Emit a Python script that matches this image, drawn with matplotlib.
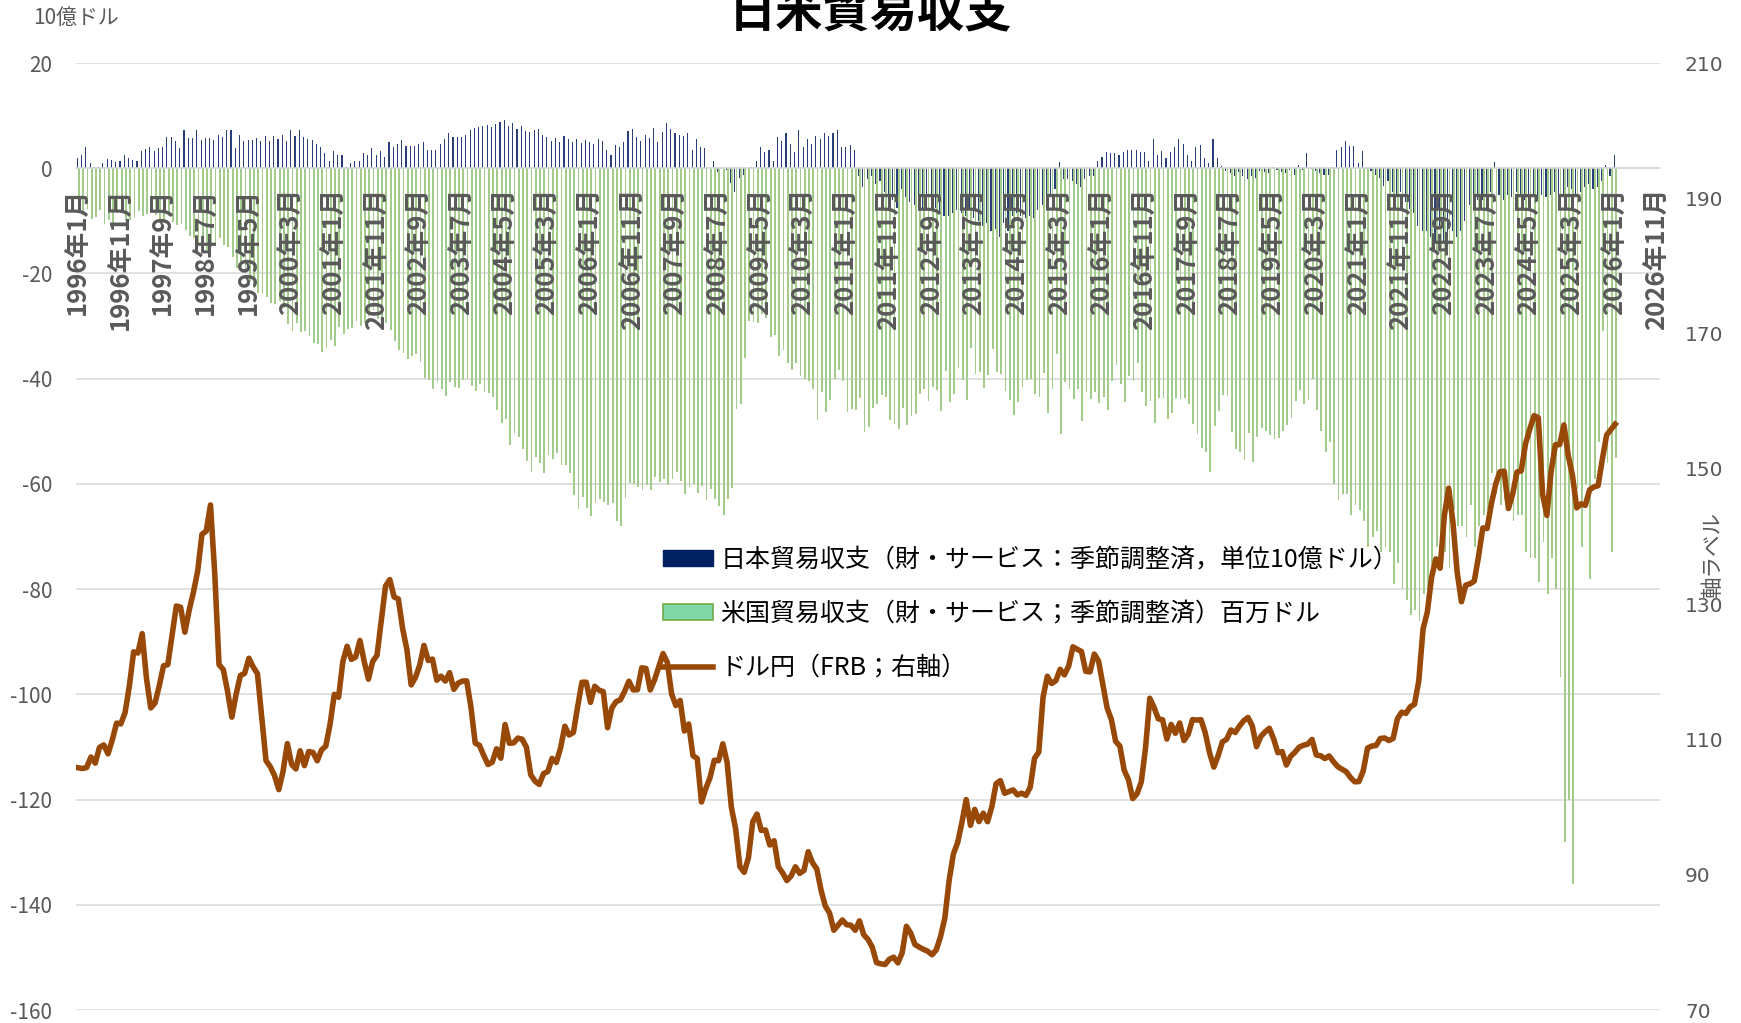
import matplotlib
matplotlib.use("Agg")
import matplotlib.pyplot as plt
import numpy as np
from matplotlib.patches import Patch
from matplotlib.lines import Line2D

plt.rcParams['font.family'] = ['Noto Sans CJK JP', 'DejaVu Sans']
plt.rcParams['axes.unicode_minus'] = False

# ---------------- data (monthly, 1996-01 .. 2026-01) ----------------
tick_labels = ["1996年1月", "1996年11月", "1997年9月", "1998年7月", "1999年5月", "2000年3月",
               "2001年1月", "2001年11月", "2002年9月", "2003年7月", "2004年5月", "2005年3月",
               "2006年1月", "2006年11月", "2007年9月", "2008年7月", "2009年5月", "2010年3月",
               "2011年1月", "2011年11月", "2012年9月", "2013年7月", "2014年5月", "2015年3月",
               "2016年1月", "2016年11月", "2017年9月", "2018年7月", "2019年5月", "2020年3月",
               "2021年1月", "2021年11月", "2022年9月", "2023年7月", "2024年5月", "2025年3月",
               "2026年1月", "2026年11月"]
n_categories = 371   # 1996年1月 .. 2026年11月

japan_balance = [
    1.9, 2.5, 4.0, 1.0, 0.2, 0.2, 0.9, 1.7, 1.6, 1.1, 1.4, 2.5,          # 1996
    1.9, 1.6, 1.4, 3.3, 3.7, 4.0, 3.2, 3.9, 4.0, 6.0, 6.0, 5.1,          # 1997
    3.8, 7.2, 5.7, 5.7, 7.2, 5.4, 5.7, 5.7, 5.4, 6.4, 6.0, 7.2,          # 1998
    7.2, 3.8, 6.4, 5.1, 5.3, 5.3, 5.7, 5.1, 6.2, 5.1, 6.2, 5.6,          # 1999
    6.4, 5.1, 7.3, 6.2, 7.3, 5.9, 5.6, 5.3, 4.6, 4.1, 2.8, 1.4,          # 2000
    3.2, 2.5, 2.5, 0.3, 0.9, 1.4, 1.4, 2.8, 2.5, 3.8, 2.5, 3.2,          # 2001
    2.1, 4.9, 4.1, 4.6, 5.3, 4.3, 4.3, 4.3, 4.6, 4.9, 3.5, 3.5,          # 2002
    3.5, 4.6, 5.6, 6.7, 5.9, 5.9, 5.9, 6.4, 7.3, 7.6, 7.8, 8.0,          # 2003
    8.2, 7.9, 8.5, 8.8, 9.2, 8.0, 8.6, 7.4, 8.1, 7.0, 6.8, 7.2,          # 2004
    7.5, 6.3, 6.0, 5.2, 5.8, 5.0, 6.1, 5.5, 4.9, 5.6, 4.8, 5.3,          # 2005
    5.0, 4.6, 5.5, 5.2, 3.5, 2.5, 4.5, 4.0, 5.0, 7.0, 7.5, 6.0,          # 2006
    5.2, 6.3, 5.8, 7.6, 4.9, 6.8, 8.6, 7.5, 6.7, 6.4, 6.2, 6.7,          # 2007
    3.5, 5.6, 4.0, 3.8, 0.1, 1.4, -0.7, 0.0, -0.4, -2.9, -4.5, -1.8,     # 2008
    -1.3, 0.0, 0.3, 1.4, 4.0, 3.0, 3.5, 1.4, 6.0, 5.1, 6.7, 4.6,         # 2009
    3.0, 7.3, 4.0, 5.6, 4.6, 6.2, 5.6, 6.7, 6.2, 6.7, 7.3, 4.0,          # 2010
    4.0, 4.5, 3.4, -1.5, -3.5, -2.0, -1.5, -3.0, -2.5, -4.5, -5.5, -6.0,  # 2011
    -7.5, -4.0, -5.5, -6.5, -7.0, -6.0, -7.5, -8.0, -8.0, -7.5, -8.5, -9.0,   # 2012
    -9.0, -8.5, -8.0, -8.5, -9.0, -8.0, -9.5, -10.0, -11.0, -10.5, -12.0, -11.5,  # 2013
    -13.0, -10.5, -12.0, -9.0, -8.5, -9.0, -9.5, -9.0, -9.5, -8.0, -7.0, -6.5,  # 2014
    -5.0, -4.0, 1.2, -2.0, -2.0, -2.5, -3.0, -3.5, -2.0, -1.5, -1.5, 1.4,   # 2015
    2.1, 3.0, 2.8, 2.8, 2.5, 3.0, 3.5, 3.5, 3.5, 3.0, 3.0, 1.4,           # 2016
    5.6, 2.5, 3.2, 1.9, 3.0, 4.1, 5.6, 4.6, 2.5, 1.4, 4.1, 4.5,           # 2017
    2.0, 1.0, 5.5, 2.0, 0.5, -0.5, -1.0, -1.5, -0.8, -1.5, -2.0, -1.5,    # 2018
    -1.8, -0.5, -0.8, -1.0, 0.3, -0.4, -0.7, -1.0, -0.3, -1.2, 0.6, -0.3,  # 2019
    2.8, -0.2, -0.5, -1.0, -1.3, -1.3, 0.3, 3.5, 4.0, 5.1, 4.3, 4.3,      # 2020
    1.0, 3.2, -0.2, -0.5, -1.3, -1.8, -3.4, -2.5, -4.5, -5.5, -4.5, -6.5,  # 2021
    -7.7, -8.5, -10.9, -12.0, -12.0, -13.0, -14.0, -10.9, -14.0, -13.0, -12.0, -13.0,  # 2022
    -12.0, -10.0, -7.0, -8.0, -6.0, -6.0, -5.5, -4.5, 1.2, -5.0, -6.0, -5.0,  # 2023
    -5.5, -4.5, -5.0, -6.0, -6.5, -5.5, -6.0, -5.0, -5.5, -5.0, -4.5, -5.0,  # 2024
    -5.0, -3.5, -4.0, -5.0, -4.5, -3.5, -3.0, -4.0, -3.5, -2.5, 0.6, -1.5,  # 2025
    2.5,                                                                  # 2026
]

us_balance = [
    -8.4, -8.9, -7.8, -9.6, -9.2, -7.9, -10.6, -9.8, -10.7, -8.6, -8.4, -9.9,   # 1996
    -9.8, -9.4, -8.2, -9.0, -8.7, -7.9, -8.9, -9.6, -10.2, -9.1, -10.3, -10.7,  # 1997
    -10.6, -11.8, -12.9, -13.3, -14.2, -14.9, -15.6, -14.9, -14.7, -13.2, -14.5, -14.9,  # 1998
    -16.8, -18.9, -19.2, -19.9, -21.4, -22.8, -23.7, -23.9, -24.5, -25.6, -25.9, -25.3,  # 1999
    -26.5, -29.6, -30.9, -29.5, -31.2, -30.9, -31.8, -33.2, -33.4, -34.9, -34.1, -32.6,  # 2000
    -33.8, -30.2, -31.5, -30.6, -30.4, -29.1, -30.0, -29.5, -28.1, -27.0, -28.6, -29.0,  # 2001
    -29.4, -30.8, -32.9, -34.6, -35.1, -36.2, -35.7, -35.3, -36.8, -39.8, -40.2, -41.9,  # 2002
    -40.7, -41.9, -43.2, -40.6, -41.5, -41.8, -40.3, -40.0, -41.4, -42.3, -41.0, -42.5,  # 2003
    -42.8, -43.5, -46.0, -48.5, -47.6, -52.6, -50.3, -51.0, -53.3, -55.6, -57.8, -54.9,  # 2004
    -56.1, -58.0, -54.6, -55.3, -54.2, -56.4, -56.5, -57.9, -62.2, -64.8, -62.4, -64.6,  # 2005
    -66.1, -63.7, -62.9, -63.5, -64.0, -63.6, -67.0, -68.0, -62.7, -59.9, -60.1, -60.5,  # 2006
    -61.2, -60.2, -61.1, -58.6, -59.6, -59.0, -60.3, -59.0, -57.8, -59.4, -61.9, -60.6,  # 2007
    -60.1, -61.7, -60.4, -63.0, -61.0, -62.8, -64.2, -66.0, -62.9, -60.7, -45.8, -44.9,  # 2008
    -36.0, -29.0, -29.2, -29.5, -27.8, -28.4, -32.0, -31.7, -35.6, -34.5, -37.0, -38.3,  # 2009
    -37.0, -39.5, -40.0, -40.4, -42.0, -47.8, -42.6, -46.3, -44.0, -40.0, -38.4, -40.5,  # 2010
    -46.3, -45.8, -46.0, -43.7, -50.2, -49.1, -45.6, -44.8, -43.1, -43.5, -47.8, -48.7,  # 2011
    -49.6, -45.6, -48.8, -47.1, -46.7, -42.9, -42.0, -44.2, -41.5, -42.2, -46.2, -38.5,  # 2012
    -44.4, -43.0, -38.0, -40.3, -44.1, -34.2, -39.1, -38.8, -41.8, -39.3, -34.3, -38.7,  # 2013
    -39.1, -42.3, -44.0, -47.0, -44.4, -41.5, -40.3, -40.1, -43.0, -43.4, -39.0, -46.6,  # 2014
    -41.9, -35.4, -50.6, -40.7, -41.9, -43.8, -41.9, -48.0, -42.5, -43.9, -42.5, -44.7,  # 2015
    -43.4, -46.0, -40.4, -37.4, -41.1, -44.5, -39.5, -40.5, -37.0, -42.6, -45.2, -44.3,  # 2016
    -48.5, -43.6, -43.7, -47.6, -46.5, -43.6, -43.9, -43.7, -44.9, -48.7, -50.5, -53.1,  # 2017
    -53.9, -57.7, -49.0, -46.2, -43.1, -43.2, -50.1, -53.3, -53.9, -55.5, -50.3, -55.8,  # 2018
    -51.1, -49.4, -50.0, -50.8, -51.5, -51.2, -50.0, -48.9, -47.5, -44.2, -42.1, -44.9,  # 2019
    -44.0, -40.0, -46.0, -50.0, -54.0, -52.0, -60.0, -63.0, -62.0, -62.0, -66.0, -64.0,  # 2020
    -65.0, -67.0, -72.0, -70.0, -69.0, -73.0, -72.0, -73.0, -79.0, -75.0, -80.0, -82.0,  # 2021
    -85.0, -84.0, -86.0, -81.0, -80.0, -78.0, -72.0, -70.0, -73.0, -76.0, -65.0, -68.0,  # 2022
    -68.0, -70.0, -64.0, -72.0, -68.0, -66.0, -65.0, -58.0, -62.0, -64.0, -63.0, -62.0,  # 2023
    -67.0, -66.0, -66.0, -73.0, -74.0, -74.0, -78.6, -71.0, -81.0, -74.0, -80.0, -96.7,  # 2024
    -128.0, -120.0, -136.0, -61.0, -72.0, -60.0, -78.0, -59.0, -52.0, -31.0, -56.0, -73.0,  # 2025
    -55.0,                                                                              # 2026
]

usd_jpy = [
    105.81, 105.70, 105.85, 107.40, 106.49, 108.82, 109.19, 107.87, 109.93, 112.41, 112.30, 113.98,  # 1996
    117.91, 122.96, 122.77, 125.64, 119.06, 114.66, 115.37, 117.93, 120.89, 121.06, 125.38, 129.73,  # 1997
    129.55, 125.85, 129.08, 131.75, 134.90, 140.33, 140.79, 144.67, 134.48, 121.05, 120.33, 117.10,  # 1998
    113.29, 116.67, 119.45, 119.77, 122.00, 120.72, 119.73, 113.22, 106.87, 105.97, 104.65, 102.58,  # 1999
    105.30, 109.39, 106.31, 105.63, 108.32, 106.13, 108.21, 108.08, 106.84, 108.44, 109.01, 112.21,  # 2000
    116.67, 116.23, 121.51, 123.77, 121.83, 122.19, 124.63, 121.53, 118.91, 121.55, 122.42, 127.59,  # 2001
    132.68, 133.64, 131.06, 130.77, 126.39, 123.29, 118.06, 119.16, 120.98, 123.90, 121.67, 121.88,  # 2002
    118.75, 119.35, 118.63, 119.86, 117.40, 118.33, 118.62, 118.66, 114.80, 109.46, 109.12, 107.63,  # 2003
    106.29, 106.64, 108.61, 107.22, 112.21, 109.44, 109.49, 110.20, 110.03, 108.84, 104.78, 103.84,  # 2004
    103.34, 104.94, 105.25, 107.19, 106.60, 108.75, 111.95, 110.65, 111.04, 114.87, 118.45, 118.46,  # 2005
    115.48, 117.86, 117.28, 117.07, 111.73, 114.63, 115.59, 115.86, 117.11, 118.61, 117.32, 117.35,  # 2006
    120.59, 120.49, 117.32, 118.81, 120.77, 122.69, 121.38, 116.74, 115.01, 115.77, 111.24, 112.28,  # 2007
    107.60, 107.18, 100.75, 102.72, 104.36, 106.92, 106.86, 109.35, 106.61, 99.97, 96.79, 91.21,     # 2008
    90.35, 92.52, 97.82, 98.96, 96.55, 96.61, 94.39, 95.03, 91.18, 90.28, 89.14, 89.82,              # 2009
    91.17, 90.20, 90.63, 93.40, 91.77, 90.87, 87.72, 85.37, 84.33, 81.79, 82.55, 83.31,              # 2010
    82.61, 82.53, 81.79, 83.18, 81.13, 80.44, 79.29, 77.00, 76.83, 76.72, 77.50, 77.81,              # 2011
    76.96, 78.45, 82.37, 81.37, 79.68, 79.30, 78.96, 78.68, 78.17, 78.90, 80.87, 83.60,              # 2012
    89.15, 93.07, 94.75, 97.74, 101.11, 97.30, 99.66, 97.85, 99.10, 97.84, 100.05, 103.45,           # 2013
    103.91, 102.03, 102.30, 102.53, 101.81, 102.05, 101.73, 102.94, 107.21, 108.13, 116.24, 119.34,  # 2014
    118.27, 118.69, 120.37, 119.54, 120.85, 123.69, 123.33, 123.00, 120.06, 119.99, 122.62, 121.60,  # 2015
    118.18, 114.67, 112.95, 109.72, 109.01, 105.45, 104.05, 101.26, 101.95, 103.70, 108.69, 116.09,  # 2016
    114.73, 113.04, 112.91, 110.06, 112.21, 110.91, 112.43, 109.83, 110.77, 112.93, 112.86, 112.92,  # 2017
    110.94, 108.02, 105.91, 107.60, 109.63, 110.02, 111.40, 111.02, 111.97, 112.77, 113.25, 112.01,  # 2018
    108.92, 110.44, 111.11, 111.65, 110.09, 108.04, 108.21, 106.21, 107.51, 108.11, 108.87, 109.14,  # 2019
    109.31, 110.00, 107.69, 107.59, 107.17, 107.56, 106.73, 106.00, 105.60, 105.24, 104.37, 103.74,  # 2020
    103.77, 105.38, 108.72, 109.02, 109.11, 110.14, 110.21, 109.84, 110.15, 113.07, 114.02, 113.86,  # 2021
    114.82, 115.20, 118.65, 126.31, 128.82, 133.95, 136.69, 135.31, 143.13, 147.14, 142.10, 134.68,  # 2022
    130.35, 132.81, 133.00, 133.41, 137.06, 141.27, 141.18, 144.82, 147.70, 149.57, 149.65, 144.13,  # 2023
    146.31, 149.53, 149.71, 153.69, 155.88, 157.86, 157.56, 146.22, 143.12, 149.63, 153.56, 153.59,  # 2024
    156.50, 152.01, 149.01, 144.23, 144.83, 144.60, 146.89, 147.33, 147.51, 151.44, 155.00, 155.80,  # 2025
    156.60,                                                                                          # 2026
]

legend_labels = ["日本貿易収支（財・サービス：季節調整済，単位10億ドル）",
                 "米国貿易収支（財・サービス；季節調整済）百万ドル",
                 "ドル円（FRB；右軸）"]

# ---------------- figure ----------------
W, H = 1741, 1023
fig = plt.figure(figsize=(W / 100, H / 100), dpi=100)
ax = fig.add_axes([76 / W, 1 - 1010 / H, (1660 - 76) / W, (1010 - 63) / H])

x = np.arange(len(us_balance))
ax.bar(x - 0.2, japan_balance, width=0.26, color='#2a3f7a', linewidth=0, zorder=2)
ax.bar(x + 0.19, us_balance, width=0.42, color='#a3cb8b', linewidth=0, zorder=2)

ax.set_xlim(-0.5, n_categories - 0.5)
ax.set_ylim(-160, 20)
ax.set_yticks(np.arange(-160, 21, 20))
ax.yaxis.grid(True, color='#d9d9d9', linewidth=1.1)
ax.yaxis.set_zorder(0.5)
ax.xaxis.set_zorder(3)
for s in ['top', 'right', 'left']:
    ax.spines[s].set_visible(False)
ax.spines['bottom'].set_position(('data', 0))
ax.spines['bottom'].set_color('#d9d9d9')
ax.spines['bottom'].set_linewidth(1.1)
ax.set_xticks(np.arange(0, n_categories, 10))
ax.set_xticklabels(tick_labels, rotation=90, fontsize=18.5, fontweight='bold', color='#595959')
ax.tick_params(axis='x', length=0, pad=14)
ax.tick_params(axis='y', length=0, pad=17, labelsize=15, labelcolor='#595959')

ax2 = ax.twinx()
ax2.plot(x, usd_jpy, color='#984807', linewidth=4.0, solid_joinstyle='round', zorder=3)
ax2.set_ylim(70, 210)
ax2.set_yticks(np.arange(70, 211, 20))
for s in ax2.spines.values():
    s.set_visible(False)
ax2.tick_params(axis='y', length=0, pad=18, labelsize=14.5, labelcolor='#595959')
for lab in ax2.get_yticklabels():
    lab.set_fontfamily('DejaVu Sans')

handles = [Patch(facecolor='#002060', edgecolor='#002060'),
           Patch(facecolor='#82d8a6', edgecolor='#70ad47', linewidth=1.2),
           Line2D([0], [0], color='#984807', linewidth=4.0)]
fig.legend(handles, legend_labels, loc='upper left',
           bbox_to_anchor=(663 / W, 1 - 547 / H), bbox_transform=fig.transFigure,
           frameon=False, fontsize=18, handlelength=2.0, handleheight=0.62,
           handletextpad=0.3, labelspacing=1.12, borderpad=0, borderaxespad=0)

fig.text(871 / W, 1 - 12 / H, "日米貿易収支", ha='center', va='center',
         fontsize=34, fontweight='bold', color='black')
fig.text(33 / W, 1 - 18 / H, "10億ドル", ha='left', va='center', fontsize=15, color='#595959')
fig.text(1713 / W, 1 - 555 / H, "軸ラベル", ha='center', va='center', rotation=90,
         fontsize=15.5, color='#595959')

fig.savefig("out.png", dpi=100)
